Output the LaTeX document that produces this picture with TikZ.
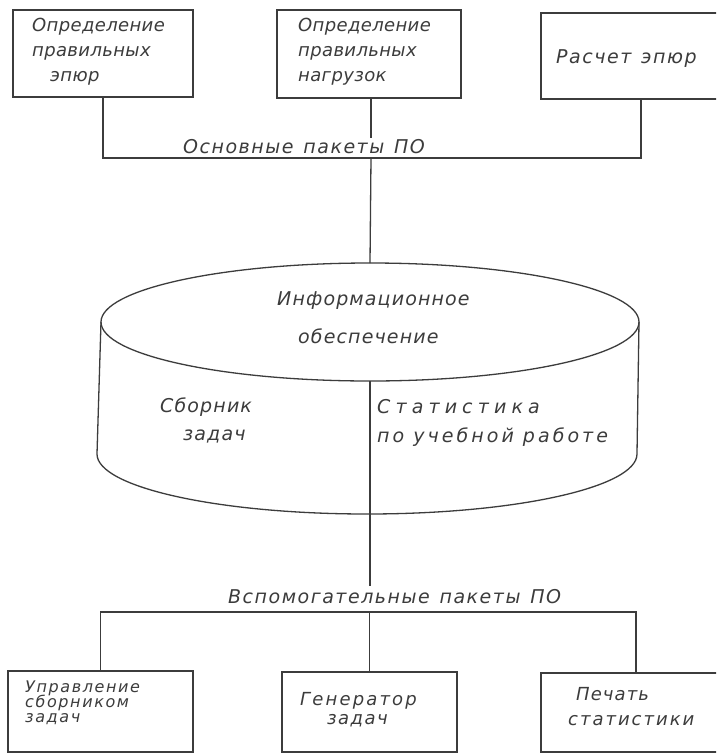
\documentclass[tikz,border=0pt]{standalone}
\usepackage{fontspec}
\newfontfamily\hw[LetterSpace=5]{DejaVu Sans}
\newfontfamily\hwb[LetterSpace=8,WordSpace=1.3]{DejaVu Sans}
\definecolor{ink}{HTML}{3C3C3C}
\newcommand\ml[2]{\vtop{\baselineskip=#1\lineskiplimit=-50pt\lineskip=0pt\halign{##\hfil\cr #2\crcr}}}
\newcommand\lsp[1]{\addfontfeature{LetterSpace=#1}}
\begin{document}
\begin{tikzpicture}[x=1pt,y=-1pt,
  line/.style={draw=ink,line width=1.3pt},
  box/.style={draw=ink,line width=1.4pt,inner sep=0pt},
  txt/.style={text=ink,inner sep=0pt,anchor=base west,font=\hw\itshape\fontsize{18}{20}\selectfont\lsp{2}},
  small/.style={txt,font=\hw\itshape\fontsize{16}{17}\selectfont\lsp{10}},
  big/.style={txt,font=\hw\itshape\fontsize{19}{22}\selectfont\lsp{6}},
  bus/.style={txt,font=\hwb\itshape\fontsize{19}{22}\selectfont}]
\useasboundingbox (0,0) rectangle (716,756);
\clip (0,0) rectangle (716,756);
\fill[white] (0,0) rectangle (716,756);

% top boxes
\node[box,minimum width=180pt,minimum height=87pt] (b1) at (103,53.5) {};
\node[box,minimum width=184pt,minimum height=88pt] (b2) at (369,54) {};
\node[box,minimum width=200pt,minimum height=86pt] (b3) at (641,56) {};
\node[txt] (t1) at (32,31) {\ml{25pt}{Определение\cr правильных\cr\hspace*{18pt}эпюр}};
\node[txt] (t2) at (298,31) {\ml{25pt}{Определение\cr правильных\cr нагрузок}};
\node[bus] (t3) at (556,63) {Расчет эпюр};

% top bus
\coordinate (busA) at (0,158);
\node[bus] (lblA) at (183,153) {Основные пакеты ПО};
\draw[line] (b1.south) -- (b1.south |- busA) -- (b3.south |- busA) -- (b3.south);
\coordinate (upA) at (371,138);
\draw[line] (b2.south -| upA) -- (upA);

% cylinder
\coordinate (cc) at (370,322);
\coordinate (ctop) at (370,263);
\coordinate (cbot) at (370,381);
\coordinate (cl) at (101,322);
\coordinate (cr) at (639,322);
\coordinate (cl2) at (97,454);
\draw[line] (cc) ellipse [x radius=269, y radius=59];
\draw[line] (cl) -- (cl2) arc[start angle=180,end angle=0,x radius=270,y radius=60] -- (cr);
\draw[line] (upA |- busA) -- (ctop);

\node[big] (t4) at (277,305) {\ml{38pt}{Информационное\cr\hspace*{21pt}обеспечение}};
\node[big] (t5) at (160,412) {\ml{28pt}{Сборник\cr\hspace*{23pt}задач}};
\node[big] (t6) at (377,413) {\ml{29pt}{\lsp{27}Статистика\cr\lsp{16}по учебной работе}};

% lower bus
\coordinate (downB) at (370,586);
\coordinate (busB) at (0,612);
\draw[line] (cbot) -- (downB);
\node[bus] (lblB) at (228,603) {Вспомогательные пакеты ПО};

% bottom boxes
\node[box,minimum width=185pt,minimum height=81pt] (b4) at (100.5,711.5) {};
\node[box,minimum width=175pt,minimum height=80pt] (b5) at (369.5,712) {};
\node[box,minimum width=190pt,minimum height=79pt] (b6) at (636,712.5) {};
\draw[line] (b4.north) -- (b4.north |- busB) -- (b6.north |- busB) -- (b6.north);
\draw[line] (b5.north |- busB) -- (b5.north);

\node[small] (t7) at (25,692) {\ml{15pt}{Управление\cr сборником\cr задач}};
\node[txt] (t8) at (300,705) {\ml{19pt}{\lsp{12}Генератор\cr\hspace*{27pt}\lsp{8}задач}};
\node[txt] (t9) at (568,700) {\ml{25pt}{\hspace*{8pt}\lsp{6}Печать\cr\lsp{11}статистики}};
\end{tikzpicture}
\end{document}
